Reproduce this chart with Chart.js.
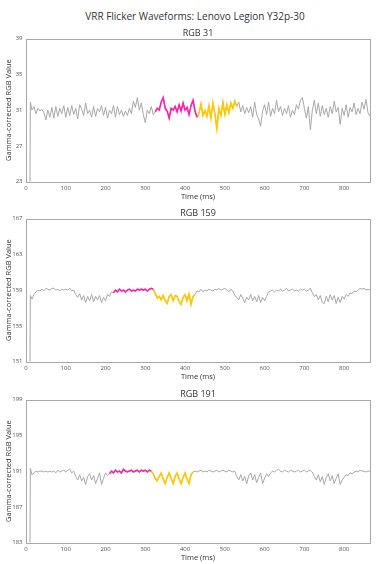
<!DOCTYPE html>
<html>
<head>
<meta charset="utf-8">
<script src="https://cdn.jsdelivr.net/npm/chart.js@4/dist/chart.umd.min.js"></script>
<style>
  html, body { margin:0; padding:0; background:#fff; }
  #wrap { position:relative; width:390px; height:564px; overflow:hidden; font-family:"Open Sans", sans-serif; }
  #mainTitle { position:absolute; left:0; top:8px; width:390px; text-align:center; font-size:10px; color:#333; line-height:16px; }
  canvas { position:absolute; left:0; }
</style>
</head>
<body>
<div id="wrap">
  <div id="mainTitle">VRR Flicker Waveforms: Lenovo Legion Y32p-30</div>
  <canvas id="c1" width="390" height="182" style="top:24px"></canvas>
  <canvas id="c2" width="390" height="182" style="top:204px"></canvas>
  <canvas id="c3" width="390" height="182" style="top:385px"></canvas>
</div>
<script>
// ---- data ----
const timeMs = [10, 11,
  15,20,25,30,35,40,45,50,55,60,65,70,75,80,85,90,95,
  100,105,110,115,120,125,130,135,140,145,150,155,160,165,170,175,180,185,190,195,
  200,205,210,215,220,225,230,235,240,245,250,255,260,265,270,275,280,285,290,295,
  300,305,310,315,320,325,330,335,340,345,350,355,360,365,370,375,380,385,390,395,
  400,405,410,415,420,425,430,435,440,445,450,455,460,465,470,475,480,485,490,495,
  500,505,510,515,520,525,530,535,540,545,550,555,560,565,570,575,580,585,590,595,
  600,605,610,615,620,625,630,635,640,645,650,655,660,665,670,675,680,685,690,695,
  700,705,710,715,720,725,730,735,740,745,750,755,760,765,770,775,780,785,790,795,
  800,805,810,815,820,825,830,835,840,845,850,855,860,865];

const rgb31Values = [23, 31.9,
  31.0,31.4,30.6,31.2,30.9,31.1,30.7,29.9,31.0,30.2,31.3,30.1,31.4,30.3,31.2,30.6,31.5,
  30.2,31.3,30.4,31.5,30.5,31.2,30.0,31.6,31.1,30.4,31.8,30.6,31.0,30.2,31.4,30.3,31.2,30.8,31.5,30.4,
  31.3,30.1,31.0,30.6,31.5,30.2,31.4,30.5,31.0,30.3,30.9,30.4,31.2,30.6,32.0,31.3,32.4,31.0,31.8,30.5,
  29.6,31.0,30.6,31.4,30.5,30.8,31.2,31.0,31.9,32.4,31.2,30.9,30.1,31.2,31.0,31.4,30.8,31.6,30.9,31.8,
  31.0,31.3,30.5,31.5,32.1,30.9,30.2,30.6,31.7,30.4,31.0,30.3,31.5,30.1,31.8,30.6,28.9,31.2,30.4,31.9,
  30.5,31.6,30.7,31.8,31.2,32.0,31.4,31.9,30.8,31.5,30.6,31.3,30.7,31.4,30.2,31.9,30.5,30.0,29.2,30.9,
  31.6,30.5,31.9,30.3,31.2,30.6,32.1,30.8,31.4,30.4,31.2,30.6,31.5,30.2,31.0,30.5,31.6,31.1,32.1,32.4,
  31.2,30.1,31.4,28.8,31.0,32.1,30.6,31.8,30.3,31.5,30.5,31.2,30.2,31.4,30.6,32.0,30.8,31.3,29.4,31.2,
  30.4,31.6,30.2,31.3,30.8,31.8,30.5,31.2,30.6,31.9,31.1,32.2,30.7,30.3];

const rgb159Values = [151, 158.4,
  158.0,158.5,158.8,159.0,158.9,159.1,158.9,159.2,159.1,159.0,159.2,159.2,159.0,159.1,158.9,159.1,159.0,
  159.1,159.0,159.2,158.9,159.0,158.5,158.2,158.6,157.9,158.4,157.6,158.3,157.8,158.5,157.7,158.3,157.9,158.4,157.6,158.2,
  157.8,158.5,158.3,158.8,158.7,159.0,158.8,159.1,158.9,159.0,158.8,159.0,159.1,158.9,159.0,158.9,159.1,159.0,159.1,159.0,
  159.1,158.9,159.1,159.2,159.1,158.6,158.1,158.3,157.9,158.4,157.8,157.5,158.3,158.5,157.8,158.4,158.3,157.7,157.4,158.2,
  158.5,157.8,158.6,157.4,158.3,158.5,158.9,158.8,159.1,158.8,159.0,158.9,159.1,159.0,158.9,159.1,159.0,159.2,159.0,159.1,
  159.2,159.0,158.8,159.1,158.9,158.4,158.2,157.9,158.5,158.1,157.6,158.2,157.9,158.5,157.8,158.3,157.7,158.4,157.6,158.2,
  157.8,158.3,158.8,158.9,159.0,158.8,159.0,158.9,159.1,158.9,159.0,159.2,158.9,159.0,159.1,158.9,159.0,158.9,159.1,159.0,
  159.1,158.9,159.0,159.2,158.7,158.3,158.5,157.9,158.4,157.6,157.5,158.3,157.7,158.5,157.9,158.4,157.5,158.2,157.6,158.3,
  158.0,158.5,158.3,158.7,158.6,158.9,158.8,159.0,159.2,159.1,159.2,159.0,159.1,159.0];

const rgb191Values = [183, 191.3,
  190.6,190.8,191.0,190.9,191.0,191.0,190.9,191.0,190.9,191.0,190.9,191.0,190.8,191.1,190.9,191.0,191.1,
  190.9,191.1,191.2,190.8,191.0,190.4,190.0,190.6,189.9,190.3,189.5,190.4,190.7,190.0,190.5,189.6,190.2,190.8,189.5,190.2,
  190.8,190.5,190.7,191.0,190.8,191.1,190.9,191.0,190.8,191.2,191.0,190.9,191.0,191.1,190.9,191.0,191.1,190.9,191.1,191.0,
  191.1,190.9,191.1,191.0,190.7,190.2,189.9,190.4,190.8,190.1,189.6,190.3,190.8,190.2,189.6,190.4,190.8,190.1,189.6,190.3,
  190.8,190.1,189.6,190.6,190.9,191.0,190.9,191.0,191.1,190.9,191.0,190.9,191.1,191.0,190.9,191.0,191.1,190.9,191.0,191.1,
  191.0,190.9,191.1,191.0,190.9,191.0,190.4,190.0,190.6,189.9,190.4,189.6,190.5,190.8,190.0,190.6,189.7,190.3,190.8,189.6,
  190.2,190.7,190.4,190.8,191.0,190.9,191.1,191.2,191.0,190.9,191.1,191.0,190.9,191.1,191.0,190.9,191.0,191.1,190.9,191.0,
  191.1,190.9,191.0,191.1,190.9,190.4,190.0,190.6,189.8,190.4,189.5,190.3,190.7,189.9,190.5,189.6,190.2,190.7,189.5,190.0,
  190.3,190.6,190.5,190.8,190.7,190.9,191.0,190.9,191.1,191.0,191.0,190.9,191.0,191.0];

// highlight windows [magenta start, magenta end = yellow start, yellow end] in ms
const rgb31Highlight = [325, 430, 530];
const rgb159Highlight = [220, 320, 425];
const rgb191Highlight = [210, 315, 420];

// axis ranges / ticks
const xTicks = [0, 100, 200, 300, 400, 500, 600, 700, 800];
const xRange = [0, 865];
const rgb31YTicks = [23, 27, 31, 35, 39];
const rgb159YTicks = [151, 155, 159, 163, 167];
const rgb191YTicks = [183, 187, 191, 195, 199];

const subTitles = ['RGB 31', 'RGB 159', 'RGB 191'];
const yAxisTitle = 'Gamma-corrected RGB Value';
const xAxisTitle = 'Time (ms)';

// ---- drawing ----
const GRAY = '#a8a8a8', PINK = '#ff1fae', GOLD = '#ffc800';
const FONT = '"Open Sans", sans-serif';
const TICK_COLOR = '#555';

const framePlugin = {
  id: 'frame',
  afterDatasetsDraw(chart) {
    const {ctx, chartArea: a} = chart;
    ctx.save();
    ctx.strokeStyle = '#a8a8a8';
    ctx.lineWidth = 1;
    ctx.strokeRect(Math.round(a.left) + 0.5, Math.round(a.top) + 0.5,
                   Math.round(a.right - a.left), Math.round(a.bottom - a.top));
    ctx.restore();
  }
};

const subTitlePlugin = {
  id: 'subTitle',
  afterDraw(chart, args, opts) {
    const {ctx, chartArea: a} = chart;
    ctx.save();
    ctx.font = '9px ' + FONT;
    ctx.fillStyle = '#333';
    ctx.textAlign = 'center';
    ctx.textBaseline = 'middle';
    ctx.fillText(opts.text, (a.left + a.right) / 2, a.top - 5.5);
    ctx.restore();
  }
};

function pts(values, from, to) {
  const out = [];
  timeMs.forEach((t, i) => { if (t >= from && t <= to) out.push({x: t, y: values[i]}); });
  return out;
}

function makeChart(id, title, values, hl, yTicks) {
  const ds = [
    {data: pts(values, hl[0], hl[1]), borderColor: PINK, borderWidth: 1.6, order: 1},
    {data: pts(values, hl[1], hl[2]), borderColor: GOLD, borderWidth: 1.6, order: 1},
    {data: pts(values, -Infinity, Infinity), borderColor: GRAY, borderWidth: 1, order: 2},
  ];
  ds.forEach(d => { d.pointRadius = 0; d.tension = 0; d.fill = false; });
  return new Chart(document.getElementById(id), {
    type: 'line',
    data: {datasets: ds},
    options: {
      responsive: false,
      animation: false,
      devicePixelRatio: 1,
      layout: {padding: {left: 0, right: 20, top: 14.5, bottom: 0}},
      plugins: {
        legend: {display: false},
        tooltip: {enabled: false},
        title: {display: false},
        subTitle: {text: title}
      },
      scales: {
        x: {
          type: 'linear', min: xRange[0], max: xRange[1],
          afterBuildTicks: s => { s.ticks = xTicks.map(v => ({value: v})); },
          afterFit: s => { s.height = 24.3; },
          grid: {display: false, drawTicks: true, tickLength: 2, tickColor: '#888'},
          border: {display: false},
          ticks: {padding: 1, color: TICK_COLOR, font: {family: FONT, size: 6}, maxRotation: 0, autoSkip: false},
          title: {display: true, text: xAxisTitle, color: '#333', font: {family: FONT, size: 7.5, lineHeight: 1.2}, padding: {top: 0, bottom: 4.5}}
        },
        y: {
          type: 'linear', min: yTicks[0], max: yTicks[yTicks.length - 1],
          afterBuildTicks: s => { s.ticks = yTicks.map(v => ({value: v})); },
          afterFit: s => { s.width = 26; },
          grid: {display: false, drawTicks: true, tickLength: 2, tickColor: '#888'},
          border: {display: false},
          ticks: {padding: 1.5, color: TICK_COLOR, font: {family: FONT, size: 6}, autoSkip: false},
          title: {display: true, text: yAxisTitle, color: '#333', font: {family: FONT, size: 7.5, lineHeight: 1.2}, padding: {top: 4.5, bottom: 0}}
        }
      }
    },
    plugins: [framePlugin, subTitlePlugin]
  });
}

makeChart('c1', subTitles[0], rgb31Values, rgb31Highlight, rgb31YTicks);
makeChart('c2', subTitles[1], rgb159Values, rgb159Highlight, rgb159YTicks);
makeChart('c3', subTitles[2], rgb191Values, rgb191Highlight, rgb191YTicks);
</script>
</body>
</html>
